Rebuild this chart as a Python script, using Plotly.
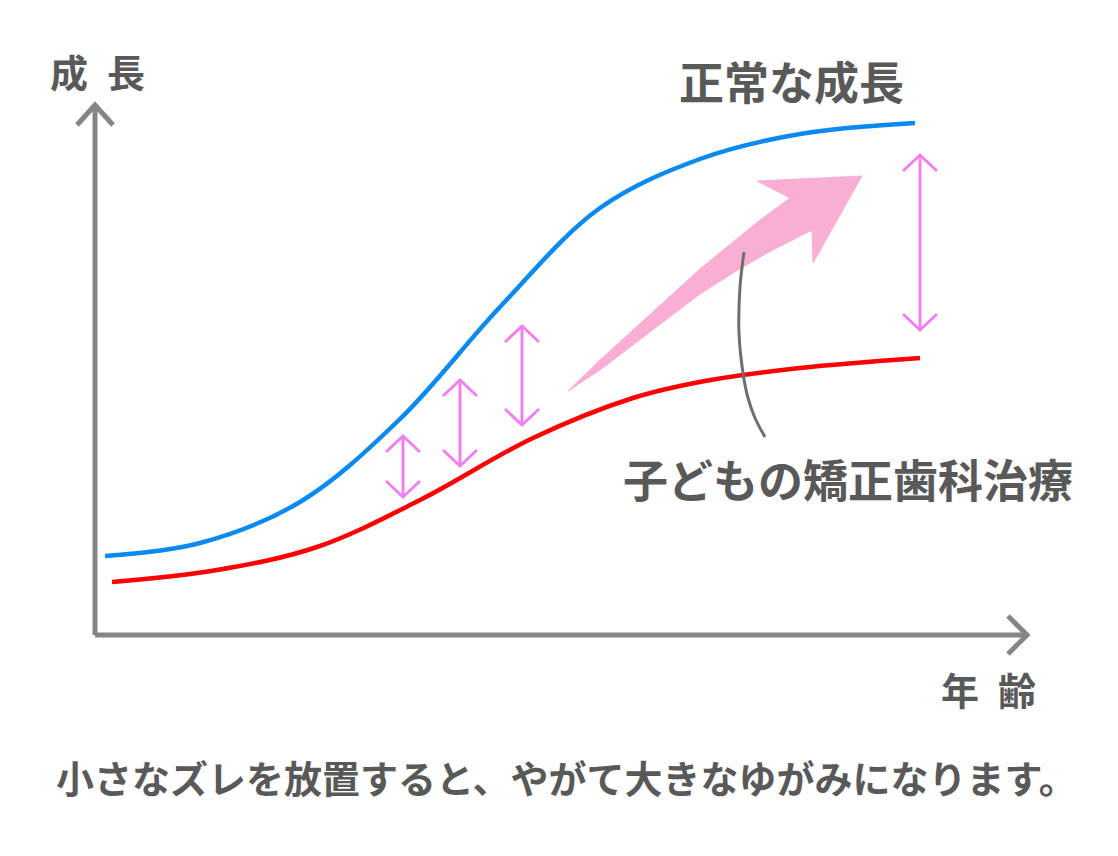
import plotly.graph_objects as go

# ---- data (units: distance from axis origin) ----
age_normal = [10, 105, 205, 305, 405, 505, 605, 705, 820]
growth_normal = [79, 92, 133, 216, 328, 427, 476, 501, 512]

age_ortho = [17, 122, 222, 325, 438, 538, 610, 705, 825]
growth_ortho = [53, 65, 88, 135, 197, 237, 254, 267, 277]

# gap arrows: age, lower growth, upper growth
gap_age = [308, 365, 427, 825]
gap_low = [138, 169, 210, 305]
gap_high = [199, 255, 309, 480]

# big pink trend arrow outline
trend_x = [473, 505, 538, 572, 605, 638, 665, 695, 662, 767, 718, 717, 672, 638, 605, 572, 538, 505, 473]
trend_y = [244, 275, 305, 336, 366, 393, 415, 437, 454, 459, 372, 405, 382, 362, 341, 316, 290, 265, 244]

# leader line
lead_x = [649, 645, 644, 648, 653, 660, 670]
lead_y = [383, 348, 302, 262, 237, 217, 198]

BG = "#ffffff"
AXC = "#858585"
TXT = "#595959"
FONT = "Noto Sans CJK JP"

fig = go.Figure()

# axes (with open arrowheads)
ax_x = [0, 0, None, -18, 0, 18, None, 0, 932, None, 913, 932, 913]
ax_y = [0, 530, None, 510, 530, 510, None, 0, 0, None, 19, 0, -19]
fig.add_trace(go.Scatter(x=ax_x, y=ax_y, mode="lines",
                         line=dict(color=AXC, width=5), hoverinfo="skip"))

# trend arrow
fig.add_trace(go.Scatter(x=trend_x, y=trend_y, mode="lines", fill="toself",
                         fillcolor="#f9afd4", line=dict(color="#f9afd4", width=1),
                         hoverinfo="skip"))

# curves
fig.add_trace(go.Scatter(x=age_normal, y=growth_normal, mode="lines",
                         line=dict(color="#0a8af0", width=4.5, shape="spline", smoothing=1.0),
                         name="正常な成長"))
fig.add_trace(go.Scatter(x=age_ortho, y=growth_ortho, mode="lines",
                         line=dict(color="#ff0000", width=4.5, shape="spline", smoothing=1.0),
                         name="子どもの矯正歯科治療"))

# leader line
fig.add_trace(go.Scatter(x=lead_x, y=lead_y, mode="lines",
                         line=dict(color="#6e6e6e", width=3, shape="spline"),
                         hoverinfo="skip"))

# double arrows
dx, dy = 17, 16
for a, lo, hi in zip(gap_age, gap_low, gap_high):
    xs = [a, a, None, a - dx, a, a + dx, None, a - dx, a, a + dx]
    ys = [lo, hi, None, hi - dy, hi, hi - dy, None, lo + dy, lo, lo + dy]
    fig.add_trace(go.Scatter(x=xs, y=ys, mode="lines",
                             line=dict(color="#f27ff0", width=3), hoverinfo="skip"))

texts = [
    ("成\u2002長", 2, 565, 38),
    ("正常な成長", 696, 555, 45),
    ("子どもの矯正歯科治療", 753, 157, 45),
    ("年\u2002齢", 893, -53, 38),
    ("小さなズレを放置すると、やがて大きなゆがみになります。", 471, -141, 38),
]
for t, x, y, s in texts:
    fig.add_annotation(x=x, y=y, text=f"<b>{t}</b>", showarrow=False,
                       font=dict(family=FONT, size=s, color=TXT),
                       xanchor="center", yanchor="middle")

fig.update_layout(
    width=1118, height=856,
    margin=dict(l=0, r=0, t=0, b=0),
    paper_bgcolor=BG, plot_bgcolor=BG,
    showlegend=False,
    xaxis=dict(range=[-95, 1023], visible=False, fixedrange=True),
    yaxis=dict(range=[-221, 635], visible=False, fixedrange=True),
)

fig.write_html("out.html")
